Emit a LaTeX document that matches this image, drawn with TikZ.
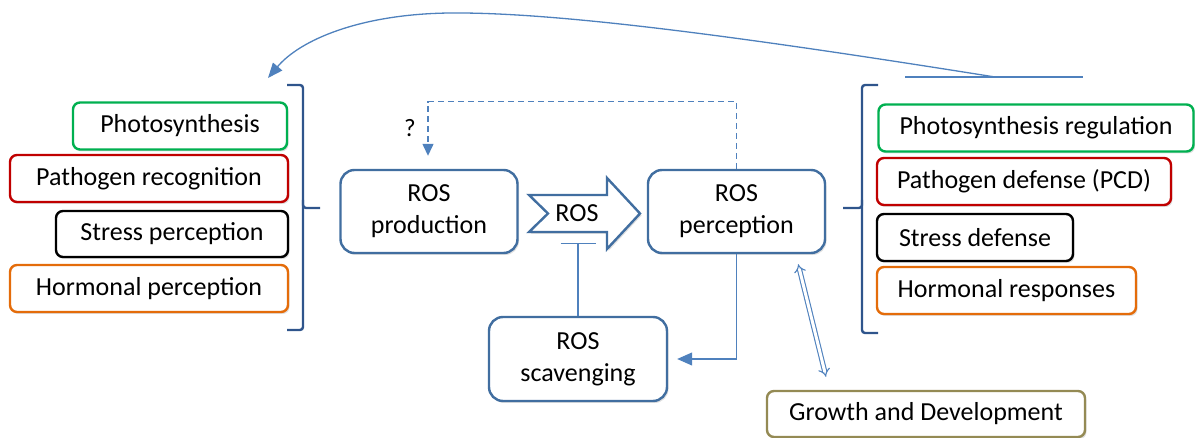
\documentclass[tikz,border=0pt]{standalone}
\usepackage{fontspec}
\setmainfont{Carlito}
\usetikzlibrary{arrows.meta,shadows,calc}
\definecolor{rosblue}{RGB}{65,110,160}
\definecolor{lineblue}{RGB}{79,129,189}
\definecolor{brkblue}{RGB}{47,85,140}
\definecolor{cgreen}{RGB}{0,176,80}
\definecolor{cred}{RGB}{192,0,0}
\definecolor{corange}{RGB}{228,108,10}
\definecolor{colive}{RGB}{148,138,84}
\tikzset{
  tbox/.style   = {draw=#1, fill=white, line width=2.4pt, rounded corners=7pt,
                   inner sep=0pt, font=\fontsize{26}{30}\selectfont,
                   drop shadow={shadow xshift=1.5pt, shadow yshift=-2pt, opacity=0.25}},
  rosbox/.style = {draw=rosblue, fill=white, line width=2.4pt, rounded corners=14pt,
                   inner sep=0pt, align=center, font=\fontsize{26}{32}\selectfont,
                   minimum width=177, minimum height=83,
                   drop shadow={shadow xshift=1.5pt, shadow yshift=-2pt, opacity=0.25}},
  wire/.style   = {draw=lineblue, line width=1.3pt},
  brk/.style    = {draw=brkblue, line width=2.4pt, rounded corners=3pt},
  lbl/.style    = {font=\fontsize{25}{28}\selectfont, inner sep=1pt},
}
\begin{document}
\begin{tikzpicture}[x=1pt,y=-1pt]
  \useasboundingbox (0,0) rectangle (1195,438);
  \node[tbox=cgreen, minimum width=214, minimum height=47] (photo) at (180,126) {Photosynthesis};
  \node[tbox=cred, minimum width=278, minimum height=47] (patho) at (149,178.5) {Pathogen recognition};
  \node[tbox=black, minimum width=232, minimum height=46] (stress) at (172,234) {Stress perception};
  \node[tbox=corange, minimum width=278, minimum height=47] (hormo) at (149,288.5) {Hormonal perception};
  \draw[brk] (287,85) -| (303,208) -- (320,208);
  \draw[brk] (303,200) -- (303,208) |- (287,330);
  \node[rosbox] (prod) at (429,211.5) {ROS\\production};
  \node[rosbox] (perc) at (736.5,211.5) {ROS\\perception};
  \node[rosbox, minimum width=178, minimum height=84] (scav) at (578,359) {ROS\\scavenging};
  \draw[draw=rosblue, fill=white, line width=2.4pt, line join=miter,
        drop shadow={shadow xshift=1.5pt, shadow yshift=-2pt, opacity=0.25}]
    (529,195) -- (607,195) -- (607,178) -- (640,213.5) -- (607,249) -- (607,232)
    -- (529,232) -- (548,213.5) -- cycle;
  \node[font=\fontsize{26}{30}\selectfont] (ros) at (577,213) {ROS};
  \coordinate (tbar) at (578,243);
  \draw[wire, -{Bar[width=35pt]}] (scav.north) -- (tbar);
  \draw[wire, -{Triangle[length=15pt,width=13pt]}, shorten >=9pt] (perc.south) |- (scav.east);
  \draw[wire, dash pattern=on 6pt off 4pt, -{Triangle[length=12pt,width=11pt]}, shorten >=13pt]
    (perc.north) -- ++(0,-67) -| ([xshift=-1pt]prod.north);
  \node[lbl] (q) at (410,128) {?};
  \draw[brk] (878,85) -| (862,208) -- (843,208);
  \draw[brk] (862,200) -- (862,208) |- (878,333);
  \node[tbox=cgreen, minimum width=315, minimum height=47] (photoreg) at (1036,128) {Photosynthesis regulation};
  \node[tbox=cred, minimum width=294, minimum height=47] (pathodef) at (1024,181.5) {Pathogen defense (PCD)};
  \node[tbox=black, minimum width=196, minimum height=47] (stressdef) at (975,237.5) {Stress defense};
  \node[tbox=corange, minimum width=259, minimum height=47] (hormresp) at (1006.5,290.5) {Hormonal responses};
  \node[tbox=colive, minimum width=318, minimum height=46] (growth) at (926,414) {Growth and Development};
  \draw[draw=lineblue, line width=1.1pt, double=white, double distance=3pt, {Implies}-{Implies}]
    ([shift={(-28,10)}]perc.south east) -- ([shift={(-100,-13)}]growth.north);
  \coordinate (fbl) at (905,77);
  \coordinate (fbr) at (1083,77);
  \coordinate (fb) at (995,77);
  \draw[wire] (fbl) -- (fbr);
  \draw[wire, -{Triangle[length=15pt,width=12pt]}] (fb) .. controls (750,38) and (560,12) .. (450,13)
    .. controls (360,14) and (300,40) .. (268,78);
\end{tikzpicture}
\end{document}
